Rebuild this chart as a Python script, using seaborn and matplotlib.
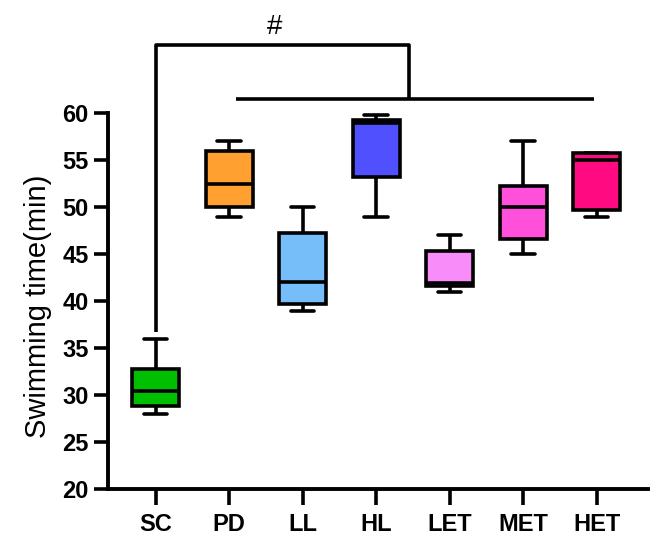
import seaborn as sns
import matplotlib.pyplot as plt
import pandas as pd

groups = ["SC", "PD", "LL", "HL", "LET", "MET", "HET"]
colors = ["#00BE00", "#FFA030", "#75BEFA", "#5050FF", "#F88CF8", "#FF50DC", "#FF0A80"]

# min, Q1, median, Q3, max
mins = [28.0, 49.0, 39.0, 49.0, 41.0, 45.0, 49.0]
q1s = [28.8, 50.0, 39.7, 53.2, 41.6, 46.6, 49.7]
medians = [30.4, 52.5, 42.0, 59.3, 41.9, 50.0, 55.0]
q3s = [32.8, 56.0, 47.3, 59.0, 45.3, 52.3, 55.8]
maxs = [36.0, 57.0, 50.0, 59.8, 47.0, 57.0, 55.8]

rows = []
for i, g in enumerate(groups):
    for v in [mins[i], q1s[i], medians[i], q3s[i], maxs[i]]:
        rows.append({"group": g, "time": v})
df = pd.DataFrame(rows)

sns.set_style("ticks")
plt.rcParams['font.family'] = ['Liberation Sans', 'DejaVu Sans']
plt.rcParams.update({'text.color': 'black', 'axes.labelcolor': 'black',
                     'xtick.color': 'black', 'ytick.color': 'black',
                     'axes.edgecolor': 'black'})

fig = plt.figure(figsize=(6.62, 5.52), dpi=100)
ax = fig.add_axes([0.163, 0.114, 0.816, 0.681])

lw = 2.6
sns.boxplot(data=df, x="group", y="time", hue="group", palette=colors,
            order=groups, hue_order=groups, whis=(0, 100), width=0.64,
            legend=False, saturation=1, linewidth=lw, linecolor="black",
            ax=ax)

ax.set_ylim(20, 60)
ax.set_xlim(-0.65, 6.7)
ax.set_yticks(range(20, 61, 5))
ax.set_xlabel("")
ax.set_ylabel("Swimming time(min)", fontsize=21, labelpad=7)
ax.yaxis.label.set_y(0.485)
ax.spines['right'].set_visible(False)
ax.spines['top'].set_visible(False)
for s in ['left', 'bottom']:
    ax.spines[s].set_linewidth(lw + 0.2)
ax.tick_params(axis='y', length=10, width=lw, labelsize=17, pad=4)
ax.tick_params(axis='x', length=11.5, width=lw, labelsize=17, pad=6)
for lab in ax.get_xticklabels() + ax.get_yticklabels():
    lab.set_fontweight('bold')

# significance bracket
kw = dict(color="black", lw=lw, clip_on=False, solid_capstyle="butt")
ax.plot([0, 0, 3.45, 3.45], [36.7, 67.2, 67.2, 61.5], **kw)
ax.plot([1.09, 5.96], [61.5, 61.5], **kw)
ax.text(1.62, 69.2, "#", ha="center", va="center", fontsize=20, clip_on=False)

fig.savefig("out.png", dpi=100)
